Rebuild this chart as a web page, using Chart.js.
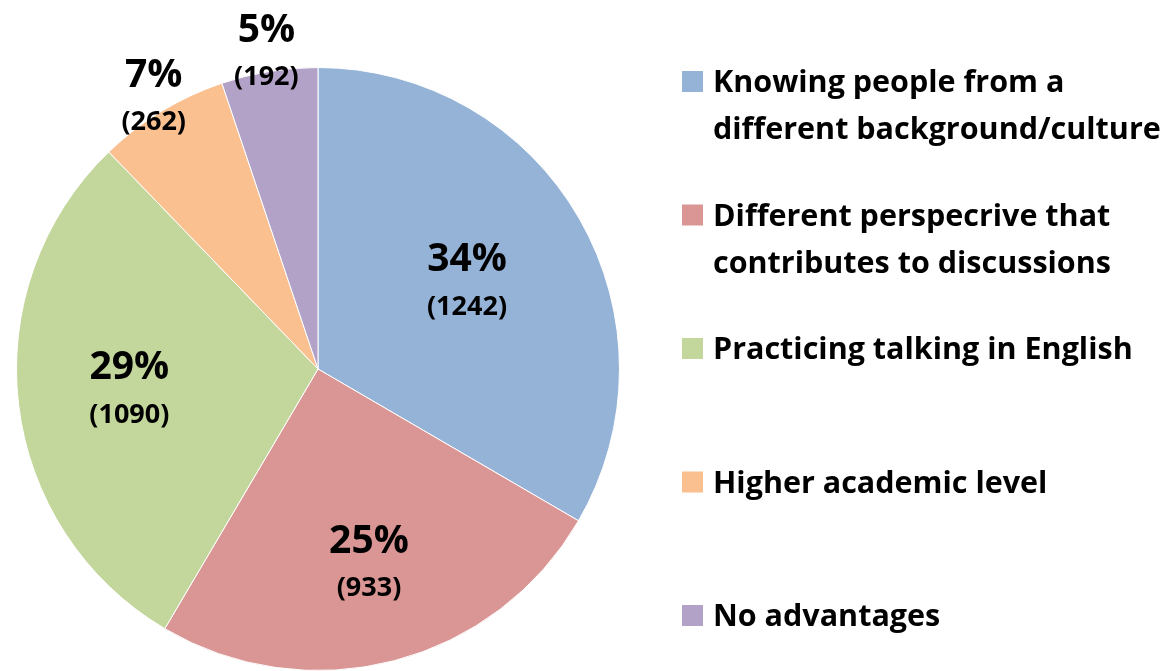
<!DOCTYPE html>
<html>
<head>
<meta charset="utf-8">
<script src="https://cdn.jsdelivr.net/npm/chart.js@4"></script>
<style>
  html, body { margin: 0; padding: 0; background: #fff; overflow: hidden; }
</style>
</head>
<body>
<canvas id="graficoPastel" width="1169" height="671"></canvas>
<script>
// datos
const categorias = [
  ['Knowing people from a', 'different background/culture'],
  ['Different perspecrive that', 'contributes to discussions'],
  ['Practicing talking in English'],
  ['Higher academic level'],
  ['No advantages']
]
const cantidades = [1242, 933, 1090, 262, 192]
const porcentajes = ['34%', '25%', '29%', '7%', '5%']
const colores = ['#95B3D7', '#D99694', '#C3D69B', '#FAC090', '#B3A2C7']

const fuente = '"Open Sans"'

// etiquetas dentro / fuera de cada porcion
const etiquetasPorcion = {
  id: 'etiquetasPorcion',
  afterDatasetsDraw(chart, args, opts) {
    const ctx = chart.ctx
    const meta = chart.getDatasetMeta(0)
    ctx.save()
    ctx.fillStyle = '#000'
    ctx.textAlign = 'center'
    ctx.textBaseline = 'middle'
    meta.data.forEach((arc, i) => {
      const p = arc.getProps(['x', 'y', 'startAngle', 'endAngle', 'outerRadius'], true)
      const mitad = (p.startAngle + p.endAngle) / 2
      const r = p.outerRadius * opts.distancias[i]
      const cx = p.x + Math.cos(mitad) * r
      const cy = p.y + Math.sin(mitad) * r
      ctx.font = 'bold 39px ' + fuente
      ctx.fillText(porcentajes[i], cx, cy - 23)
      ctx.font = 'bold 27px ' + fuente
      ctx.fillText('(' + cantidades[i] + ')', cx, cy + 24)
    })
    ctx.restore()
  }
}

// leyenda a la derecha con textos de varias lineas
const leyendaDerecha = {
  id: 'leyendaDerecha',
  afterDraw(chart, args, opts) {
    const ctx = chart.ctx
    ctx.save()
    ctx.textAlign = 'left'
    ctx.textBaseline = 'alphabetic'
    ctx.font = 'bold 30.5px ' + fuente
    categorias.forEach((lineas, i) => {
      const y0 = opts.top + i * opts.paso
      ctx.fillStyle = colores[i]
      ctx.fillRect(opts.x, y0, opts.caja, opts.caja)
      ctx.fillStyle = '#000'
      lineas.forEach((t, j) => {
        ctx.fillText(t, opts.x + 31, y0 + 21 + j * opts.interlinea)
      })
    })
    ctx.restore()
  }
}

const pastel = document.getElementById('graficoPastel')

new Chart(pastel, {
  type: 'pie',
  data: {
    labels: categorias.map(l => l.join(' ')),
    datasets: [
      {
        data: cantidades,
        backgroundColor: colores,
        borderColor: '#ffffff',
        borderWidth: 1,
      },
    ],
  },
  options: {
    responsive: false,
    animation: false,
    layout: {
      padding: { left: 16, top: 67, right: 549, bottom: 0 },
    },
    plugins: {
      legend: { display: false },
      tooltip: { enabled: false },
      etiquetasPorcion: { distancias: [0.57, 0.67, 0.63, 1.05, 1.06] },
      leyendaDerecha: { x: 682, top: 71, paso: 133.5, caja: 21, interlinea: 47 },
    },
  },
  plugins: [etiquetasPorcion, leyendaDerecha],
})
</script>
</body>
</html>
